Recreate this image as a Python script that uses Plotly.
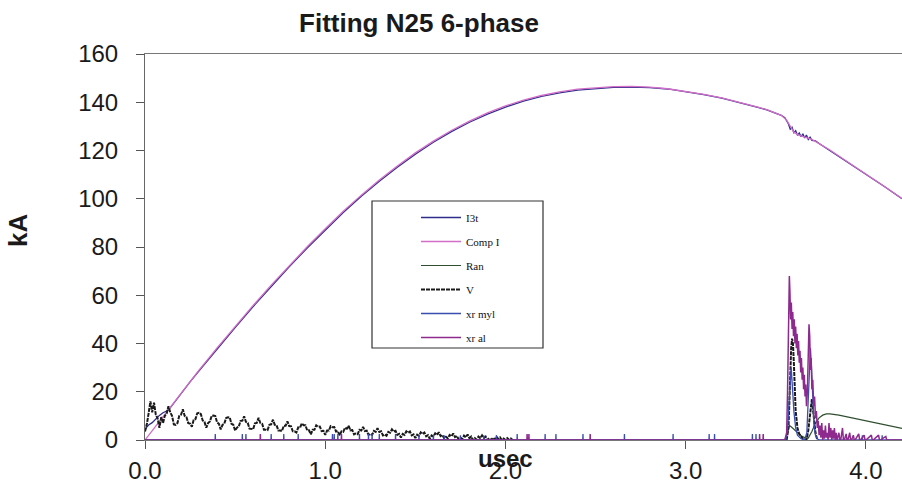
import plotly.graph_objects as go

# ---------------- data ----------------
comp_t = [0.0, 0.1, 0.2, 0.3, 0.4, 0.5, 0.6, 0.7, 0.8, 0.9, 1.0, 1.1, 1.2, 1.3, 1.4, 1.5, 1.6,
          1.7, 1.8, 1.9, 2.0, 2.1, 2.2, 2.3, 2.4, 2.5, 2.6, 2.7, 2.8, 2.9, 3.0, 3.1, 3.2, 3.3,
          3.4, 3.45, 3.5, 3.53, 3.56, 3.58, 3.6, 3.63, 3.66, 3.7, 3.8, 3.9, 4.0, 4.1, 4.2]
comp_i = [0, 9.8, 19.5, 29.0, 38.2, 47.1, 55.8, 64.2, 72.3, 80.1, 87.6, 94.8, 101.5, 107.8,
          113.6, 119.0, 123.9, 128.3, 132.2, 135.6, 138.5, 140.9, 142.8, 144.3, 145.4, 146.1,
          146.5, 146.6, 146.3, 145.6, 144.6, 143.3, 141.8, 140.0, 138.0, 136.9, 135.6, 134.6,
          132.6, 129.9, 127.6, 126.3, 125.6, 124.6, 120.2, 115.3, 110.3, 105.2, 100.1]

i3t_t = [0.0, 0.02, 0.04, 0.06, 0.08, 0.1, 0.12, 0.14, 0.16, 0.18, 0.2, 0.25, 0.3, 0.4, 0.5,
         0.6, 0.7, 0.8, 0.9, 1.0, 1.1, 1.2, 1.3, 1.4, 1.5, 1.6, 1.7, 1.8, 1.9, 2.0, 2.1, 2.2,
         2.3, 2.4, 2.5, 2.6, 2.7, 2.8, 2.9, 3.0, 3.1, 3.2, 3.3, 3.4, 3.45, 3.5, 3.53, 3.55,
         3.56, 3.57, 3.58, 3.59, 3.60, 3.61, 3.62, 3.63, 3.64, 3.65, 3.66, 3.67, 3.68, 3.69,
         3.70, 3.72, 3.74, 3.8, 3.9, 4.0, 4.1, 4.2]
i3t_i = [4.5, 6.2, 7.2, 8.8, 10.2, 11.3, 12.0, 13.3, 15.3, 17.6, 19.6, 24.1, 28.7, 37.8, 46.6,
         55.3, 63.7, 71.8, 79.6, 87.1, 94.3, 101.0, 107.3, 113.1, 118.5, 123.4, 127.8, 131.7,
         135.1, 138.0, 140.5, 142.4, 143.9, 145.0, 145.7, 146.2, 146.3, 146.1, 145.5, 144.5,
         143.2, 141.7, 139.9, 137.9, 136.8, 135.6, 134.6, 133.6, 132.4, 131.0, 128.8, 129.6,
         127.4, 128.2, 126.3, 127.3, 125.7, 126.9, 125.2, 126.4, 124.6, 125.5, 124.2, 124.0,
         122.9, 120.0, 115.2, 110.2, 105.2, 100.0]

ran_t = [0.0, 3.55, 3.565, 3.575, 3.585, 3.60, 3.62, 3.64, 3.66, 3.68, 3.70, 3.72, 3.74, 3.76,
         3.78, 3.80, 3.85, 3.90, 3.95, 4.00, 4.05, 4.10, 4.15, 4.20]
ran_i = [0, 0, 3, 6, 5.5, 4.5, 3, 1.8, 1.0, 0.8, 3.5, 7.0, 9.2, 10.3, 10.8, 10.8, 10.3, 9.5,
         8.6, 7.7, 6.9, 6.1, 5.4, 4.8]

# V: noisy record sampled every 0.01 usec from 0.00
v_noise = [3.5, 6.5, 11.0, 16.0, 11.5, 15.5, 10.5, 9.0, 5.0, 9.5,
           7.0, 10.0, 11.0, 14.0, 11.5, 10.0, 6.5, 6.3, 7.0, 10.0,
           10.5, 12.7, 10.0, 9.5, 7.0, 6.8, 5.5, 8.3, 8.7, 11.1,
           11.3, 10.7, 8.1, 7.5, 5.1, 7.0, 7.7, 10.0, 10.1, 9.9,
           7.3, 6.7, 4.4, 6.3, 6.8, 9.1, 9.4, 9.3, 6.7, 6.3,
           3.9, 5.1, 5.5, 7.9, 8.0, 9.8, 7.5, 7.1, 4.7, 4.5,
           4.5, 6.9, 7.1, 9.2, 7.0, 6.7, 4.3, 4.3, 4.1, 6.3,
           6.5, 8.4, 6.3, 6.1, 3.9, 3.9, 3.7, 5.9, 5.9, 7.7,
           5.8, 5.7, 3.6, 3.6, 3.1, 5.2, 5.1, 6.9, 6.1, 6.1,
           4.0, 4.0, 2.3, 4.2, 4.2, 6.1, 5.5, 5.6, 3.7, 3.8,
           2.1, 3.9, 3.9, 5.7, 5.3, 5.4, 3.5, 3.7, 1.9, 3.6,
           3.4, 5.1, 4.7, 5.9, 4.0, 4.1, 2.3, 2.7, 2.4, 4.2,
           3.9, 5.4, 3.7, 3.9, 2.1, 2.5, 2.1, 3.8, 3.4, 4.9,
           3.3, 3.6, 1.9, 2.3, 1.8, 3.4, 3.0, 4.4, 3.5, 3.8,
           2.1, 2.5, 1.0, 2.5, 2.1, 3.6, 3.0, 3.5, 1.9, 2.3,
           0.8, 2.2, 1.7, 3.2, 2.5, 3.1, 1.5, 2.0, 0.5, 1.9,
           1.4, 2.8, 2.1, 3.2, 1.6, 2.1, 0.6, 1.3, 0.7, 2.1,
           1.5, 2.7, 1.2, 1.7, 0.3, 1.0, 0.4, 1.8, 1.1, 2.3,
           0.8, 1.4, 0.0, 0.8, 0.1, 1.4, 0.7, 1.9, 0.8, 1.4,
           0.0, 0.7, 0.0, 0.9, 0.2, 1.4, 0.5, 1.1, 0.0, 0.6,
           0.0, 0.8, 0.1, 0.6, 0.0, 0.0]
v_noise_t = [round(0.01 * k, 2) for k in range(len(v_noise))]
v_spike_t = [3.560, 3.570, 3.575, 3.580, 3.585, 3.590, 3.595, 3.600, 3.605, 3.610, 3.620,
             3.630, 3.650, 3.670, 3.680, 3.690, 3.700, 3.710, 3.720, 3.730]
v_spike_i = [0, 5, 15, 28, 38, 42, 40, 32, 22, 12, 5, 2.5, 0.5, 0, 4, 12, 17, 10, 3, 0]

myl_spike_t = [0.39, 0.54, 0.56, 0.70, 0.77, 0.85, 1.04, 1.05, 1.07, 1.19, 1.24, 1.26, 1.30,
               1.39, 1.52, 1.60, 1.66, 1.75, 1.88, 1.95, 2.065, 2.22, 2.28, 2.43, 2.66, 2.93,
               3.13, 3.16, 3.37, 3.39, 3.98, 4.09]
myl_spike_h = [2.5, 2.5, 2.5, 2.5, 2.5, 2.5, 2.5, 2.5, 2.5, 2.5, 2.5, 2.5, 2.5, 2.5, 2.0, 2.0,
               2.0, 2.0, 2.0, 2.0, 2.5, 2.5, 2.5, 2.5, 2.5, 2.5, 2.5, 2.5, 2.5, 2.5, 2.0, 2.0]
myl_burst_t = [3.555, 3.565, 3.572, 3.578, 3.585, 3.592, 3.600, 3.610, 3.620, 3.640, 3.660,
               3.672, 3.680, 3.686, 3.692, 3.698, 3.705, 3.712, 3.720, 3.730, 3.740, 3.760,
               3.800]
myl_burst_i = [0, 4, 14, 24, 30, 22, 12, 5, 2, 0.5, 0, 3, 18, 32, 38, 30, 15, 6, 2, 0.5, 0, 0, 0]

al_spike_t = [0.64, 1.09, 2.12, 2.13, 2.47, 3.41, 3.43]
al_spike_h = [2.5, 2.5, 2.5, 2.5, 2.5, 2.5, 2.5]
al_burst_t = [3.550, 3.560, 3.565, 3.570, 3.575, 3.578, 3.582, 3.586, 3.590, 3.594,
              3.598, 3.602, 3.606, 3.610, 3.614, 3.618, 3.622, 3.626, 3.630, 3.634,
              3.638, 3.642, 3.646, 3.650, 3.654, 3.658, 3.662, 3.666, 3.670, 3.675,
              3.680, 3.684, 3.688, 3.692, 3.696, 3.700, 3.705, 3.710, 3.715, 3.720,
              3.725, 3.730, 3.735, 3.740, 3.745, 3.750, 3.755, 3.760, 3.765, 3.770,
              3.775, 3.780, 3.785, 3.790, 3.795, 3.800, 3.805, 3.810, 3.815, 3.820,
              3.825, 3.830, 3.835, 3.840, 3.850, 3.855, 3.860, 3.870, 3.875, 3.880,
              3.890, 3.895, 3.900, 3.910, 3.915, 3.920, 3.930, 3.935, 3.940, 3.960,
              3.965, 3.970, 3.990, 3.995, 4.000, 4.030, 4.035, 4.040, 4.070, 4.075,
              4.080, 4.110, 4.115, 4.120, 4.200]
al_burst_i = [0, 3, 20, 45, 68, 62, 50, 57, 46, 53,
              43, 50, 40, 47, 38, 44, 35, 41, 32, 37,
              28, 34, 25, 30, 21, 27, 18, 23, 14, 20,
              38, 48, 43, 29, 34, 21, 25, 14, 18, 9,
              12, 5, 8, 2, 6, 1, 7, 0, 4, 0.5,
              6, 1, 3, 0, 7, 1, 5, 0, 4, 0.5,
              5, 0, 3, 0, 3, 0, 0, 5, 0, 0,
              2.5, 0, 0, 3, 0, 0, 2, 0, 0, 2.5,
              0, 0, 2, 0, 0, 2, 0, 0, 2, 0,
              0, 1.5, 0, 0, 0]

x_ticks = [0, 1, 2, 3, 4]
x_ticktext = ["0.0", "1.0", "2.0", "3.0", "4.0"]
y_ticks = [0, 20, 40, 60, 80, 100, 120, 140, 160]


def spiky(spike_t, spike_h, burst_t, burst_i, t0=0.0, t1=4.2):
    pts = [(t0, 0.0), (t1, 0.0)]
    for s, h in zip(spike_t, spike_h):
        pts += [(s - 0.001, 0.0), (s, h), (s + 0.001, 0.0)]
    pts += list(zip(burst_t, burst_i))
    pts.sort(key=lambda p: p[0])
    return [p[0] for p in pts], [p[1] for p in pts]


myl_t, myl_i = spiky(myl_spike_t, myl_spike_h, myl_burst_t, myl_burst_i)
al_t, al_i = spiky(al_spike_t, al_spike_h, al_burst_t, al_burst_i)
v_t = v_noise_t + [None] + v_spike_t
v_i = v_noise + [None] + v_spike_i

# ---------------- figure ----------------
fig = go.Figure()
fig.add_trace(go.Scatter(x=i3t_t, y=i3t_i, mode="lines", name="I3t", legendgroup="a",
                         line=dict(color="#2E2E8A", width=1.3)))
fig.add_trace(go.Scatter(x=comp_t, y=comp_i, mode="lines", name="Comp I", legendgroup="b",
                         line=dict(color="#D26EC8", width=1.3)))
fig.add_trace(go.Scatter(x=ran_t, y=ran_i, mode="lines", name="Ran", legendgroup="c",
                         line=dict(color="#2F4F30", width=1.2)))
fig.add_trace(go.Scatter(x=v_t, y=v_i, mode="lines", name="V", legendgroup="d",
                         line=dict(color="#1A1A1A", width=2.0, dash="4px,1px")))
fig.add_trace(go.Scatter(x=myl_t, y=myl_i, mode="lines", name="xr myl", legendgroup="e",
                         line=dict(color="#3A4DB0", width=1.3)))
fig.add_trace(go.Scatter(x=al_t, y=al_i, mode="lines", name="xr al", legendgroup="f",
                         line=dict(color="#8E2A8E", width=1.5)))

L, R, T, B = 145, 0, 54, 45
W, H = 902, 485
pw, ph = W - L - R, H - T - B


def px(xp):
    return (xp - L) / pw


def py(yp):
    return (H - B - yp) / ph


fig.update_layout(
    width=W, height=H,
    margin=dict(l=L, r=R, t=T, b=B, autoexpand=False),
    paper_bgcolor="white", plot_bgcolor="white",
    font=dict(family="Liberation Sans, Arial, sans-serif", color="#1a1a1a"),
    title=dict(text="<b>Fitting N25 6-phase</b>", x=419 / W, xanchor="center",
               y=1 - 23 / H, yanchor="middle", yref="container",
               font=dict(size=26, color="#1a1a1a")),
    showlegend=True,
    legend=dict(x=px(416), y=py(203), xanchor="left", yanchor="top",
                bgcolor="rgba(0,0,0,0)", borderwidth=0,
                font=dict(family="Liberation Serif, Times New Roman, serif", size=11,
                          color="#111"),
                tracegroupgap=5, itemwidth=40),
    xaxis=dict(range=[0, 4.2], tickmode="array", tickvals=x_ticks, ticktext=x_ticktext,
               ticks="outside", ticklen=8, tickcolor="#555", showline=True,
               linecolor="#777", linewidth=1, mirror=True, showgrid=False, zeroline=False,
               tickfont=dict(size=24), ticklabelstandoff=1, automargin=False),
    yaxis=dict(range=[0, 160], tickmode="array", tickvals=y_ticks, ticks="outside",
               ticklen=8, tickcolor="#555", showline=True, linecolor="#666", linewidth=1,
               showgrid=False, zeroline=False, tickfont=dict(size=24),
               ticklabelstandoff=13, automargin=False),
    shapes=[dict(type="rect", xref="paper", yref="paper", x0=px(372), x1=px(543),
                 y0=py(348), y1=py(201), line=dict(color="#333", width=1.2),
                 fillcolor="rgba(0,0,0,0)")],
    annotations=[
        dict(text="<b>kA</b>", xref="paper", yref="paper", x=px(18), y=py(230),
             xanchor="center", yanchor="middle", textangle=-90, showarrow=False,
             font=dict(size=26, color="#1a1a1a")),
        dict(text="<b>usec</b>", xref="paper", yref="paper", x=px(505), y=py(458),
             xanchor="center", yanchor="middle", showarrow=False,
             font=dict(size=24, color="#1a1a1a")),
    ],
)

fig.write_html("out.html", config={"displayModeBar": False},
               post_script="document.body.style.margin='0px';")
